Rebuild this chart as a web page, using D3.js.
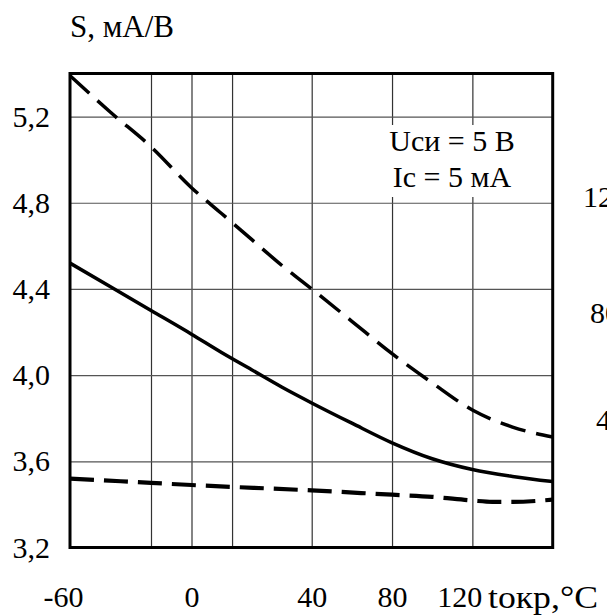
<!DOCTYPE html>
<html>
<head>
<meta charset="utf-8">
<script src="https://cdn.jsdelivr.net/npm/d3@7"></script>
<style>
  html, body { margin: 0; padding: 0; background: #fff; }
  svg { display: block; font-family: "Liberation Serif", "Times New Roman", serif; }
</style>
</head>
<body>
<svg id="chart" width="607" height="616"></svg>
<script>
// ---- data ----
const tUpper = [-60, -40, -20, 0, 10, 20, 30, 40, 60, 80, 100, 120, 140, 160];
const sUpper = [5.39, 5.22, 5.06, 4.87, 4.75, 4.63, 4.51, 4.40, 4.25, 4.10, 3.964, 3.838, 3.759, 3.713];

const tSolid = [-60, -40, -20, 0, 10, 20, 30, 40, 60, 80, 100, 120, 140, 160];
const sSolid = [4.52, 4.41, 4.30, 4.19, 4.105, 4.025, 3.945, 3.871, 3.777, 3.686, 3.612, 3.562, 3.530, 3.506];

const tLower = [-60, -20, 0, 40, 80, 100, 120, 130, 140, 160];
const sLower = [3.52, 3.50, 3.49, 3.465, 3.445, 3.435, 3.418, 3.412, 3.412, 3.422];

const xTickValues = [-60, 0, 40, 80, 120];
const xGridValues = [-20, 0, 13.5, 40, 80, 120];
const yTickValues = [3.2, 3.6, 4.0, 4.4, 4.8, 5.2];
const yGridValues = [3.6, 4.0, 4.4, 4.8, 5.2];

const yTitle = "S, мА/В";
const xTitle = "tокр,°С";
const noteLines = ["Uси = 5 В", "Ic = 5 мА"];
const sideLabels = ["120", "80", "40"];   // neighbouring chart's axis, cut by the right edge

// ---- layout ----
const svg = d3.select("#chart");
const L = 70, R = 552.7, T = 73.5, B = 547.5;
const FS = 30;

// the printed temperature axis is not uniform, so use a piecewise-linear scale
const x = d3.scaleLinear().domain([-60, 0, 40, 160]).range([L, 191.5, 311.7, R]);
const y = d3.scaleLinear().domain([3.2, 5.4]).range([B, T]);

// grid
const grid = svg.append("g");
grid.append("g")
  .attr("transform", `translate(0,${B})`)
  .call(d3.axisBottom(x).tickValues(xGridValues).tickSize(-(B - T)).tickFormat(""))
  .call(g => g.select(".domain").remove())
  .call(g => g.selectAll("line").attr("stroke", "#333").attr("stroke-width", 1.2));
grid.append("g")
  .attr("transform", `translate(${L},0)`)
  .call(d3.axisLeft(y).tickValues(yGridValues).tickSize(-(R - L)).tickFormat(""))
  .call(g => g.select(".domain").remove())
  .call(g => g.selectAll("line").attr("stroke", "#555").attr("stroke-width", 1.2));

// white box behind the note
svg.append("rect").attr("x", 384).attr("y", 125).attr("width", 138).attr("height", 72)
  .attr("fill", "#fff");

// curves
const clip = svg.append("clipPath").attr("id", "plotclip");
clip.append("rect").attr("x", L).attr("y", T).attr("width", R - L).attr("height", B - T);

const line = d3.line().x(d => x(d[0])).y(d => y(d[1])).curve(d3.curveMonotoneX);
const curves = svg.append("g").attr("clip-path", "url(#plotclip)");
curves.append("path").datum(d3.zip(tUpper, sUpper)).attr("d", line)
  .attr("fill", "none").attr("stroke", "#000").attr("stroke-width", 3.5)
  .attr("stroke-dasharray", "26,11");
curves.append("path").datum(d3.zip(tSolid, sSolid)).attr("d", line)
  .attr("fill", "none").attr("stroke", "#000").attr("stroke-width", 3.5);
curves.append("path").datum(d3.zip(tLower, sLower)).attr("d", line)
  .attr("fill", "none").attr("stroke", "#000").attr("stroke-width", 4.2)
  .attr("stroke-dasharray", "24,10");

// frame
svg.append("rect").attr("x", L).attr("y", T).attr("width", R - L).attr("height", B - T)
  .attr("fill", "none").attr("stroke", "#000").attr("stroke-width", 3);

// y tick labels
const fmt = d => d3.format(".1f")(d).replace(".", ",");
svg.append("g")
  .attr("transform", `translate(${L},0)`)
  .call(d3.axisLeft(y).tickValues(yTickValues).tickSize(0).tickPadding(20).tickFormat(fmt))
  .call(g => g.select(".domain").remove())
  .call(g => g.selectAll("text").attr("font-size", FS).attr("fill", "#000")
        .attr("font-family", "Liberation Serif"));

// x tick labels
svg.append("g")
  .attr("transform", `translate(0,${B})`)
  .call(d3.axisBottom(x).tickValues(xTickValues).tickSize(0).tickPadding(38).tickFormat(d => d))
  .call(g => g.select(".domain").remove())
  .call(g => g.selectAll("text").attr("font-size", FS).attr("fill", "#000")
        .attr("font-family", "Liberation Serif")
        .attr("dx", d => d === -60 ? -7 : (d === 120 ? -13 : 0)));

// axis titles
svg.append("text").attr("x", 70).attr("y", 37).attr("font-size", 31).text(yTitle);
svg.append("text").attr("x", 488).attr("y", 608).attr("font-size", 31)
  .attr("textLength", 110).attr("lengthAdjust", "spacingAndGlyphs").text(xTitle);

// note
svg.append("g").selectAll("text").data(noteLines).join("text")
  .attr("x", 452).attr("y", (d, i) => 151 + i * 36)
  .attr("text-anchor", "middle").attr("font-size", FS).text(d => d);

// fragments of the neighbouring chart's axis, cut by the page edge as in the source
const sideX = [583, 590, 596], sideY = [207, 323, 430];
svg.append("g").selectAll("text").data(sideLabels).join("text")
  .attr("x", (d, i) => sideX[i]).attr("y", (d, i) => sideY[i])
  .attr("font-size", FS).text(d => d);
</script>
</body>
</html>
